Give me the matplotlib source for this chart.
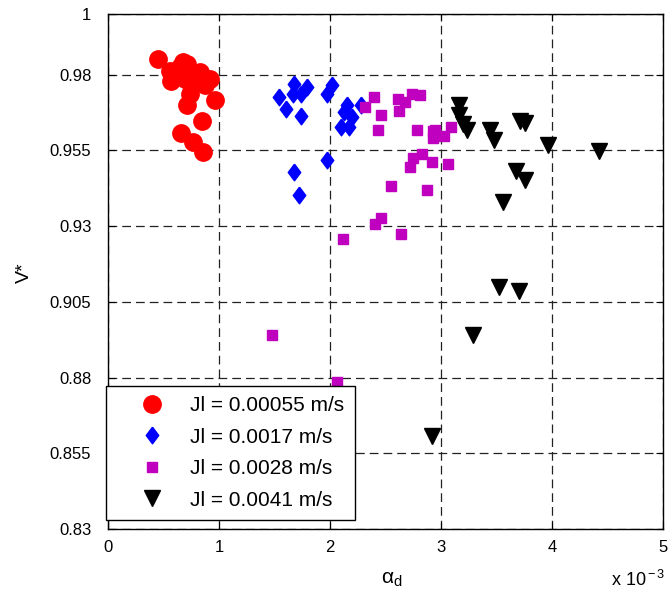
import matplotlib
matplotlib.use("Agg")
import matplotlib.pyplot as plt

plt.rcParams['font.family'] = ['Liberation Sans', 'DejaVu Sans']
plt.rcParams['mathtext.fontset'] = 'custom'
plt.rcParams['mathtext.rm'] = 'Liberation Sans'
plt.rcParams['mathtext.it'] = 'Liberation Sans:italic'

# alpha_d in units of 1e-3, V* values
red_x = [0.45, 0.56, 0.68, 0.71, 0.57, 0.74, 0.75, 0.74, 0.83, 0.92, 0.87, 0.96, 0.71,
         0.85, 0.66, 0.77, 0.86, 0.65, 0.69, 0.80]
red_y = [0.985, 0.9813, 0.9841, 0.9835, 0.978, 0.9802, 0.9764, 0.9736, 0.9808, 0.9786,
         0.9764, 0.9716, 0.9698, 0.9648, 0.9606, 0.9576, 0.9543, 0.9824, 0.9786, 0.978]

blue_x = [1.54, 1.60, 1.68, 1.67, 1.74, 1.79, 1.74, 1.68, 1.72, 1.97, 2.02, 1.97, 2.15,
          2.10, 2.17, 2.20, 2.28, 2.13]
blue_y = [0.9727, 0.9687, 0.9769, 0.9736, 0.9736, 0.976, 0.9664, 0.9477, 0.9404, 0.9736,
          0.9764, 0.9518, 0.9698, 0.9626, 0.9626, 0.9659, 0.9698, 0.9675]

mag_x = [2.40, 2.32, 2.46, 2.43, 2.61, 2.68, 2.62, 2.74, 2.81, 2.78, 2.95, 2.93, 3.03,
         3.09, 2.83, 2.75, 2.72, 2.92, 3.06, 2.55, 2.87, 2.46, 2.41, 2.64, 2.12, 1.48,
         2.06, 2.93]
mag_y = [0.9727, 0.9692, 0.9665, 0.9618, 0.972, 0.9709, 0.9681, 0.9736, 0.9733, 0.9618,
         0.9618, 0.9591, 0.9596, 0.9626, 0.9538, 0.9525, 0.9494, 0.951, 0.9505, 0.9431,
         0.942, 0.9327, 0.9307, 0.9274, 0.9257, 0.894, 0.8784, 0.9615]

blk_x = [3.16, 3.16, 3.20, 3.23, 3.44, 3.48, 3.71, 3.76, 3.96, 4.42, 3.68, 3.76, 3.56,
         3.52, 3.70, 3.29, 2.92]
blk_y = [0.9698, 0.9665, 0.9637, 0.9617, 0.9617, 0.9584, 0.9646, 0.9639, 0.9569, 0.9549,
         0.9483, 0.9452, 0.9378, 0.910, 0.9084, 0.8941, 0.8608]

labels = ['Jl = 0.00055 m/s', 'Jl = 0.0017 m/s', 'Jl = 0.0028 m/s', 'Jl = 0.0041 m/s']

yticks = [0.83, 0.855, 0.88, 0.905, 0.93, 0.955, 0.98, 1]
yticklabels = ['0.83', '0.855', '0.88', '0.905', '0.93', '0.955', '0.98', '1']

fig = plt.figure(figsize=(6.69, 6.05), dpi=100)
ax = fig.add_axes([0.1614, 0.1256, 0.8296, 0.8514])

diamond = [(0, 1), (0.75, 0), (0, -1), (-0.75, 0), (0, 1)]

ax.plot(red_x, red_y, 'o', color='red', ms=12.5, mec='red', label=labels[0], zorder=3)
ax.plot(blue_x, blue_y, ls='none', marker=diamond, color='blue', ms=12, label=labels[1], zorder=3)
ax.plot(mag_x, mag_y, 's', color='m', ms=7.5, label=labels[2], zorder=3)
ax.plot(blk_x, blk_y, 'v', color='black', ms=11.5, label=labels[3], zorder=3)

ax.set_xlim(0, 5)
ax.set_ylim(0.83, 1)
ax.set_xticks([0, 1, 2, 3, 4, 5])
ax.set_xticklabels(['0', '1', '2', '3', '4', '5'])
ax.set_yticks(yticks)
ax.set_yticklabels(yticklabels)
ax.tick_params(direction='in', length=5, labelsize=12, top=True, right=True)
ax.tick_params(axis='x', pad=8)
ax.tick_params(axis='y', pad=12)
ax.grid(True, color='#222222', ls=(0, (7, 4)), lw=0.9)
ax.set_axisbelow(True)
for s in ax.spines.values():
    s.set_linewidth(1.0)

fig.text(0.036, 0.55, 'V*', fontsize=14, rotation=90, ha='center', va='center')
fig.text(0.585, 0.042, 'α$_{\\rm d}$', fontsize=15, ha='center', va='center')
fig.text(0.913, 0.042, r'x 10$^{\rm -3}$', fontsize=13, ha='left', va='center')

leg = ax.legend(loc='lower left', bbox_to_anchor=(0.158, 0.1405), bbox_transform=fig.transFigure,
                fontsize=15, frameon=True, fancybox=False, edgecolor='black', framealpha=1,
                borderaxespad=0, handletextpad=0.15, labelspacing=0.6, borderpad=0.5,
                handlelength=3.4, numpoints=1)
leg.get_frame().set_linewidth(1.0)
leg.set_zorder(5)

fig.savefig('out.png', dpi=100)
